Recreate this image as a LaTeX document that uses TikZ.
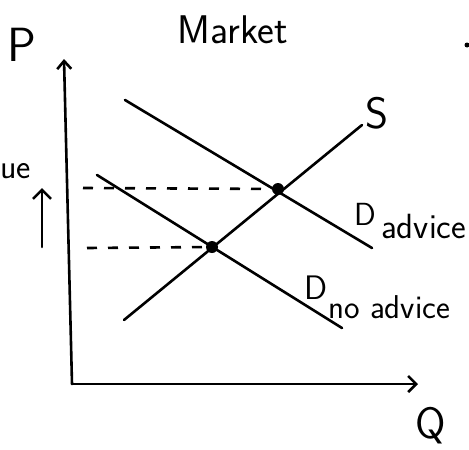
\documentclass[tikz,border=0pt]{standalone}
\usepackage{fontspec}
\usetikzlibrary{arrows.meta}
\begin{document}
\begin{tikzpicture}[x=1pt,y=-1pt,
  curve/.style={line width=2.6pt,line cap=round},
  guide/.style={line width=2.6pt,dash pattern=on 10pt off 11pt},
  eq/.style={circle,fill=black,inner sep=0pt,minimum size=12pt},
  lbl/.style={font=\sffamily\fontsize{44}{48}\selectfont,inner sep=0pt},
  sub/.style={font=\sffamily\fontsize{35}{40}\selectfont,inner sep=0pt}]
\useasboundingbox (0,0) rectangle (469,450);
% axes
\coordinate (O) at (72,384);
\coordinate (Ytop) at (64,59);
\coordinate (Xend) at (418,384);
\draw[curve,-{Straight Barb[length=8pt,width=14pt]}] (O) -- (Ytop);
\draw[curve,-{Straight Barb[length=8pt,width=16pt]}] (O) -- (Xend);
\node[lbl,font=\sffamily\fontsize{48}{52}\selectfont] (P) at (22,45) {P};
\node[lbl] (Q) at (431,426) {Q};
\node[lbl,font=\sffamily\fontsize{40}{44}\selectfont] (title) at (233,30) {Market};
% curves
\coordinate (S1) at (124,320);
\coordinate (S2) at (362,125);
\coordinate (DA1) at (125,100);
\coordinate (DA2) at (372,248);
\coordinate (DN1) at (97,175);
\coordinate (DN2) at (342,328);
\draw[curve] (S1) -- (S2);
\draw[curve] (DA1) -- (DA2);
\draw[curve] (DN1) -- (DN2);
\node[lbl] (Slab) at (377,113) {S};
\node[lbl,font=\sffamily\fontsize{32}{36}\selectfont] (DAlab) at (365,214) {D};
\node[sub,anchor=base west] (DAsub) at (381,238) {advice};
\node[lbl,font=\sffamily\fontsize{34}{38}\selectfont] (DNlab) at (316,288) {D};
\node[sub,font=\sffamily\fontsize{33}{36}\selectfont,anchor=base west] (DNsub) at (328,318) {no advice};
% equilibria
\node[eq] (E1) at (278,189) {};
\node[eq] (E2) at (212,247) {};
\coordinate (L1) at (83,188);
\coordinate (L2) at (87,248);
\draw[guide] (L1) -- (E1);
\draw[guide] (L2) -- (E2);
% price rise arrow
\coordinate (A1) at (42,247);
\coordinate (A2) at (42,188);
\draw[curve,-{Straight Barb[length=9pt,width=18pt]}] (A1) -- (A2);
\node[inner sep=0pt,font=\sffamily\fontsize{34}{38}\selectfont,anchor=base west] (cut) at (0,178) {ue};
% stray mark top right
\fill (467,45) circle (2.5pt);
\end{tikzpicture}
\end{document}
